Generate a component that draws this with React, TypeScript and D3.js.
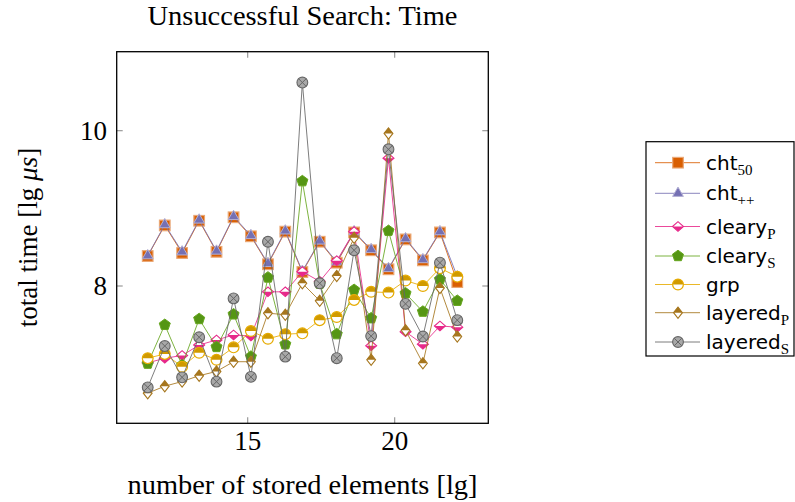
import React from 'react';
import * as d3 from 'd3';

// lg of number of stored elements
const xs = [11.6, 12.18, 12.77, 13.35, 13.94, 14.52, 15.11, 15.69, 16.28, 16.86, 17.45, 18.03, 18.62, 19.2, 19.79, 20.37, 20.96, 21.54, 22.13];

const cht50 = [8.386, 8.78, 8.425, 8.84, 8.44, 8.885, 8.64, 8.28, 8.7, 8.18, 8.57, 8.3, 8.69, 8.46, 8.215, 8.6, 8.33, 8.69, 8.05];
const chtPP = [8.39, 8.79, 8.44, 8.85, 8.45, 8.895, 8.65, 8.29, 8.71, 8.19, 8.58, 8.31, 8.7, 8.47, 8.225, 8.61, 8.34, 8.7, 8.12];
const clearyP = [7.01, 7.07, 7.105, 7.24, 7.305, 7.37, 7.355, 7.925, 7.925, 8.185, 8.06, 8.325, 8.7, 7.23, 9.645, 7.41, 7.25, 7.485, 7.47];
const clearyS = [7.0, 7.5, 6.98, 7.575, 7.215, 7.635, 7.09, 8.11, 7.25, 9.35, 8.03, 7.38, 7.95, 7.585, 8.71, 7.905, 7.67, 8.085, 7.81];
const grp = [7.07, 7.125, 6.96, 7.14, 7.05, 7.21, 7.42, 7.32, 7.38, 7.39, 7.56, 7.6, 7.82, 7.925, 7.915, 8.07, 8.0, 8.23, 8.12];
const layeredP = [6.62, 6.71, 6.77, 6.845, 6.9, 7.025, 7.025, 7.65, 7.63, 8.035, 7.81, 8.13, 8.62, 7.05, 9.965, 7.43, 7.005, 7.975, 7.35];
const layeredS = [6.695, 7.227, 6.824, 7.34, 6.768, 7.84, 6.83, 8.57, 7.09, 10.62, 8.035, 7.07, 8.46, 7.355, 9.76, 7.77, 7.35, 8.3, 7.56];

const seriesNames = ['cht', 'cht', 'cleary', 'cleary', 'grp', 'layered', 'layered'];
const seriesSubs = ['50', '++', 'P', 'S', '', 'P', 'S'];
const seriesValues = [cht50, chtPP, clearyP, clearyS, grp, layeredP, layeredS];
const seriesColors = ['#d95f02', '#7570b3', '#e7298a', '#66a61e', '#e6ab02', '#a6761d', '#666666'];
const seriesMarks = ['square', 'triangle', 'diamondLow', 'pentagon', 'halfCircle', 'diamondHigh', 'otimes'];

const xTicks = [15, 20];
const yTicks = [8, 10];

const W = 795, H = 502;
const L = 116.7, R = 488.3, T = 51.7, B = 423.3;
const SERIF = "'Liberation Serif', 'Times New Roman', serif";
const SANS = "'DejaVu Sans', sans-serif";

function Mark({ type, color, cx, cy }: { type: string; color: string; cx: number; cy: number }) {
  const light = d3.interpolateRgb(color, '#ffffff')(0.45);
  const g = (children: React.ReactNode) => <g transform={`translate(${cx},${cy})`}>{children}</g>;
  if (type === 'square') {
    const s = 5.3;
    return g(<rect x={-s} y={-s} width={2 * s} height={2 * s} fill={color} stroke={light} strokeWidth={1.2} />);
  }
  if (type === 'triangle') {
    const r = 6.2;
    const pts = [[0, -r], [0.866 * r, 0.5 * r], [-0.866 * r, 0.5 * r]].map(p => p.join(',')).join(' ');
    return g(<polygon points={pts} fill={color} stroke={light} strokeWidth={1} />);
  }
  if (type === 'pentagon') {
    const r = 5.8;
    const pts = d3.range(5).map(i => {
      const a = -Math.PI / 2 + (i * 2 * Math.PI) / 5;
      return [r * Math.cos(a), r * Math.sin(a)].join(',');
    }).join(' ');
    return g(<polygon points={pts} fill="#559614" stroke={color} strokeWidth={1} />);
  }
  if (type === 'diamondLow' || type === 'diamondHigh') {
    const hw = type === 'diamondLow' ? 5.5 : 4.4;
    const hh = type === 'diamondLow' ? 4.8 : 5.6;
    const full = `${-hw},0 0,${-hh} ${hw},0 0,${hh}`;
    const half = type === 'diamondLow' ? `${-hw},0 0,${hh} ${hw},0` : `${-hw},0 0,${-hh} ${hw},0`;
    return g(<>
      <polygon points={full} fill="#ffffff" />
      <polygon points={half} fill={color} />
      <polygon points={full} fill="none" stroke={color} strokeWidth={1.1} />
    </>);
  }
  if (type === 'halfCircle') {
    const r = 5.4;
    return g(<>
      <circle r={r} fill="#ffffff" />
      <path d={`M${-r},0 A${r},${r} 0 0 1 ${r},0 Z`} fill="#d09a00" />
      <circle r={r} fill="none" stroke={color} strokeWidth={1.2} />
    </>);
  }
  // otimes
  const r = 5.4;
  const d = r * 0.7071;
  return g(<>
    <circle r={r} fill="#a8a8a8" stroke={color} strokeWidth={1.1} />
    <line x1={-d} y1={-d} x2={d} y2={d} stroke={color} strokeWidth={1} />
    <line x1={-d} y1={d} x2={d} y2={-d} stroke={color} strokeWidth={1} />
  </>);
}

export default function App() {
  const x = d3.scaleLinear().domain([10.545, 23.185]).range([L, R]);
  const y = d3.scaleLinear().domain([6.232, 11.017]).range([B, T]);
  const line = d3.line<[number, number]>().x(d => x(d[0])).y(d => y(d[1]));

  const legendRows = [162.7, 193.3, 226.5, 256, 284.5, 312.7, 342];

  return (
    <svg width={W} height={H} style={{ position: 'absolute', left: 0, top: 0, background: '#fff' }}>
      <rect x={0} y={0} width={W} height={H} fill="#ffffff" />
      {/* title */}
      <text x={(L + R) / 2} y={25} textAnchor="middle" fontFamily={SERIF} fontSize={27} textLength={310} lengthAdjust="spacingAndGlyphs">Unsuccessful Search: Time</text>

      {/* ticks */}
      {xTicks.map(t => (
        <g key={'xt' + t}>
          <line x1={x(t)} x2={x(t)} y1={B} y2={B - 6} stroke="#999" strokeWidth={1.2} />
          <line x1={x(t)} x2={x(t)} y1={T} y2={T + 6} stroke="#999" strokeWidth={1.2} />
          <text x={x(t)} y={450} textAnchor="middle" fontFamily={SERIF} fontSize={27}>{t}</text>
        </g>
      ))}
      {yTicks.map(t => (
        <g key={'yt' + t}>
          <line x1={L} x2={L + 6} y1={y(t)} y2={y(t)} stroke="#999" strokeWidth={1.2} />
          <line x1={R} x2={R - 6} y1={y(t)} y2={y(t)} stroke="#999" strokeWidth={1.2} />
          <text x={107} y={y(t) + 9} textAnchor="end" fontFamily={SERIF} fontSize={27}>{t}</text>
        </g>
      ))}

      {/* series */}
      <g>
        {seriesValues.map((vals, si) => {
          const pts = vals.map((v, i) => [xs[i], v] as [number, number]);
          return (
            <g key={'s' + si}>
              <path d={line(pts) || ''} fill="none" stroke={seriesColors[si]} strokeWidth={1} strokeOpacity={0.85} />
              {pts.map((p, i) => (
                <Mark key={i} type={seriesMarks[si]} color={seriesColors[si]} cx={x(p[0])} cy={y(p[1])} />
              ))}
            </g>
          );
        })}
      </g>

      {/* frame */}
      <rect x={L} y={T} width={R - L} height={B - T} fill="none" stroke="#000" strokeWidth={1.3} />

      {/* axis labels */}
      <text x={(L + R) / 2} y={494} textAnchor="middle" fontFamily={SERIF} fontSize={27} textLength={350} lengthAdjust="spacingAndGlyphs">number of stored elements [lg]</text>
      <text transform={`translate(37,${(T + B) / 2}) rotate(-90)`} textAnchor="middle" fontFamily={SERIF} fontSize={27}>
        total time [lg <tspan fontStyle="italic">μs</tspan>]
      </text>

      {/* legend */}
      <rect x={646} y={141.7} width={148} height={214.3} fill="#fff" stroke="#000" strokeWidth={1.2} />
      {seriesNames.map((n, i) => (
        <g key={'lg' + i}>
          <line x1={655} x2={700} y1={legendRows[i]} y2={legendRows[i]} stroke={seriesColors[i]} strokeWidth={1} strokeOpacity={0.85} />
          <Mark type={seriesMarks[i]} color={seriesColors[i]} cx={678} cy={legendRows[i]} />
          <text x={706} y={legendRows[i] + 7} fontFamily={SANS} fontSize={20}>
            {n}
            {seriesSubs[i] && (
              <tspan fontFamily={SERIF} fontSize={15} dy={5}>{seriesSubs[i]}</tspan>
            )}
          </text>
        </g>
      ))}
    </svg>
  );
}
